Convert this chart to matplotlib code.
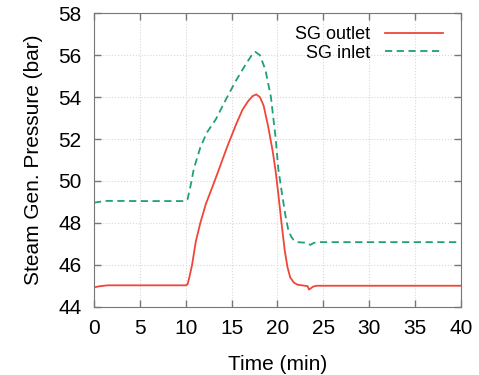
import numpy as np
import matplotlib.pyplot as plt

plt.rcParams['font.family'] = ['Liberation Sans', 'DejaVu Sans']

# SG outlet pressure (bar) vs time (min)
t_out = [0, 0.5, 1.5, 5, 10, 10.2, 10.4, 10.7, 11.1, 11.6, 12.2, 12.9, 13.5, 14.5,
         15.5, 16.2, 16.8, 17.3, 17.7, 18.1, 18.5, 19.0, 19.5, 19.8, 20.1, 20.4,
         20.8, 21.1, 21.4, 21.8, 22.2, 23.0, 23.3, 23.45, 23.6, 23.9, 24.3, 30, 35, 40]
p_out = [44.92, 44.97, 45.02, 45.02, 45.02, 45.06, 45.4, 46.0, 47.1, 48.0, 48.9,
         49.7, 50.4, 51.6, 52.7, 53.4, 53.8, 54.05, 54.13, 54.0, 53.6, 52.6, 51.4,
         50.5, 49.4, 48.2, 46.7, 45.9, 45.4, 45.15, 45.05, 45.0, 44.98, 44.82,
         44.86, 44.96, 45.0, 45.0, 45.0, 45.0]

# SG inlet pressure (bar) vs time (min)
t_in = [0, 0.5, 1.5, 5, 10, 10.2, 10.5, 10.9, 11.6, 12.3, 13.3, 14.4, 15.5, 16.6,
        17.2, 17.6, 18.1, 18.7, 19.3, 19.8, 20.1, 20.4, 20.65, 20.9, 21.2, 21.5,
        21.75, 22.2, 23.2, 23.6, 24.0, 24.5, 30, 35, 40]
p_in = [48.96, 49.0, 49.05, 49.04, 49.04, 49.12, 49.7, 50.6, 51.6, 52.3, 52.95,
        53.9, 54.8, 55.6, 56.0, 56.16, 56.0, 55.3, 54.0, 52.1, 50.6, 49.7, 49.0,
        48.3, 47.65, 47.35, 47.2, 47.08, 47.05, 46.95, 47.05, 47.08, 47.08, 47.08,
        47.08]

fig = plt.figure(figsize=(4.79, 3.75), dpi=100)
ax = fig.add_axes([94/479, 1 - 306.7/375, (460.7 - 94)/479, (306.7 - 13.3)/375])

ax.plot(t_out, p_out, color='#f0463a', lw=1.3, label='SG outlet')
ax.plot(t_in, p_in, color='#1f9f7a', lw=1.3, ls=(0, (4, 2.5)), label='SG inlet')

ax.set_xlim(0, 40)
ax.set_ylim(44, 58)
ax.set_xticks(np.arange(0, 41, 5))
ax.set_yticks(np.arange(44, 59, 2))
ax.grid(True, color='#d8d8d8', ls=':', lw=0.8)
ax.tick_params(direction='in', length=5, width=1, color='#777777', top=True,
               right=True, labelsize=15, pad=9)
for s in ax.spines.values():
    s.set_color('#777777')

ax.set_xlabel('Time (min)', fontsize=15, labelpad=12)
ax.set_ylabel('Steam Gen. Pressure (bar)', fontsize=15, labelpad=11)

ax.legend(loc='upper right', frameon=False, markerfirst=False, fontsize=13,
          handlelength=3.2, labelspacing=0.1, borderaxespad=0.3,
          bbox_to_anchor=(0.985, 1.0))

fig.savefig('out.png', dpi=100)
